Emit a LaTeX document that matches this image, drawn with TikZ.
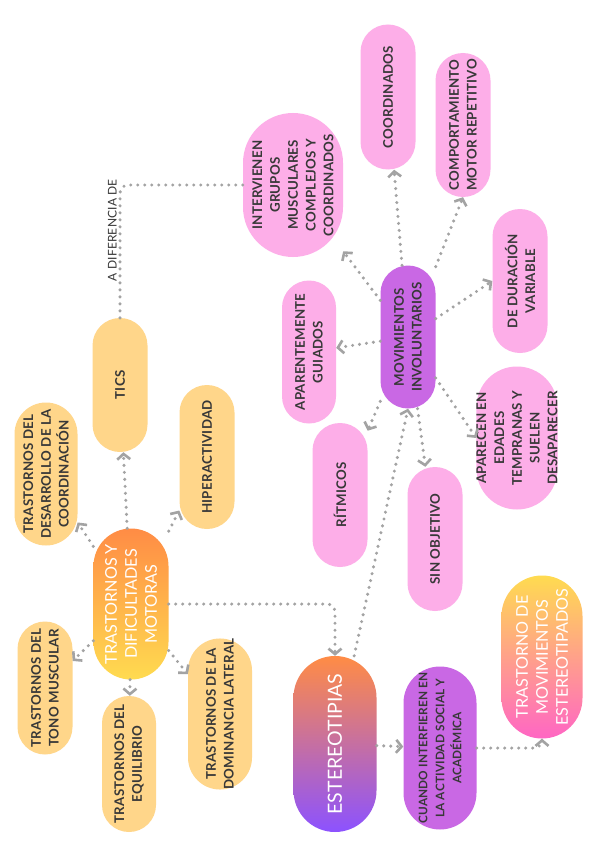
\documentclass[tikz,border=0pt]{standalone}
\usepackage{fontspec}
\setmainfont{Lato}
\newfontfamily\pfont[LetterSpace=1.5]{Lato}
\newfontfamily\gfont{Lato}
\usetikzlibrary{arrows.meta}
\definecolor{pastel}{HTML}{FFD68A}
\definecolor{pinkn}{HTML}{FDAEE8}
\definecolor{purp}{HTML}{C968E4}
\definecolor{txt}{HTML}{383838}
\definecolor{conncol}{HTML}{A3A3A3}
\definecolor{gorange}{HTML}{FF8C45}
\definecolor{gyellow}{HTML}{FFDB50}
\definecolor{gpurple}{HTML}{8C52FF}
\definecolor{gpink}{HTML}{FF66C4}
\tikzset{
  pill/.style 2 args={rotate=90, inner sep=0pt, minimum height=#1pt, minimum width=#2pt, rounded corners=#1pt/2},
  ptxt/.style={font=\pfont\fontsize{13.3}{17.8}\selectfont\bfseries, text=txt, align=center},
  gtxt/.style={font=\gfont\fontsize{16.2}{20}\selectfont, text=white, align=center},
  conn/.style={draw=conncol, line width=3.4pt, line cap=round, dash pattern=on 0pt off 7pt,
    -{Straight Barb[length=5.5pt,width=13pt,line width=2.6pt]}},
  nconn/.style={draw=conncol, line width=3.4pt, line cap=round, dash pattern=on 0pt off 7pt, rounded corners=8pt},
}
\begin{document}
\begin{tikzpicture}[x=1pt,y=-1pt]
\useasboundingbox[fill=white] (0,0) rectangle (599,848);
% yellow group
\node[pill={55}{134}, fill=pastel, ptxt] (tics) at (120,385) {TICS};
\node[pill={55}{144}, fill=pastel, ptxt] (hiper) at (207,457) {HIPERACTIVIDAD};
\node[pill={63}{143}, fill=pastel, ptxt] (desarr) at (46,474) {TRASTORNOS DEL\\DESARROLLO DE LA\\COORDINACIÓN};
\node[pill={75}{151}, top color=gorange, bottom color=gyellow, gtxt] (tdm) at (131,604) {TRASTORNOS Y\\DIFICULTADES\\MOTORAS};
\node[pill={55}{133}, fill=pastel, ptxt] (tono) at (45,688) {TRASTORNOS DEL\\TONO MUSCULAR};
\node[pill={54}{136}, fill=pastel, ptxt] (equil) at (129,764) {TRASTORNOS DEL\\EQUILIBRIO};
\node[pill={64}{146}, fill=pastel, ptxt] (domin) at (220,714) {TRASTORNOS DE LA\\DOMINANCIA LATERAL};
% bottom right
\node[pill={83}{176}, top color=gorange, bottom color=gpurple, gtxt, font=\gfont\fontsize{19.5}{22}\selectfont] (est) at (335,744) {ESTEREOTIPIAS};
\node[pill={73}{163}, fill=purp, ptxt, font=\pfont\fontsize{11.8}{17}\selectfont\bfseries] (cuando) at (440,748) {CUANDO INTERFIEREN EN\\LA ACTIVIDAD SOCIAL Y\\ACADÉMICA};
\node[pill={81}{163}, top color=gyellow, bottom color=gpink, gtxt] (tmest) at (542,657) {TRASTORNO DE\\MOVIMIENTOS\\ESTEREOTIPADOS};
% pink group
\node[pill={55}{143}, fill=purp, ptxt] (mi) at (408,337) {MOVIMIENTOS\\INVOLUNTARIOS};
\node[pill={55}{144}, fill=pinkn, ptxt] (sinobj) at (435,539) {SIN OBJETIVO};
\node[pill={55}{144}, fill=pinkn, ptxt] (ritm) at (340,495) {RÍTMICOS};
\node[pill={81}{143}, fill=pinkn, ptxt] (aparecen) at (517,438) {APARECEN EN\\EDADES\\TEMPRANAS Y\\SUELEN\\DESAPARECER};
\node[pill={54}{143}, fill=pinkn, ptxt] (aparent) at (309,352) {APARENTEMENTE\\GUIADOS};
\node[pill={55}{144}, fill=pinkn, ptxt] (durac) at (520,281) {DE DURACIÓN\\VARIABLE};
\node[pill={55}{144}, fill=pinkn, ptxt] (comport) at (463,125) {COMPORTAMIENTO\\MOTOR REPETITIVO};
\node[pill={55}{145}, fill=pinkn, ptxt] (coord) at (388,97) {COORDINADOS};
\node[pill={100}{144}, fill=pinkn, ptxt] (interv) at (293,185) {INTERVIENEN\\GRUPOS\\MUSCULARES\\COMPLEJOS Y\\COORDINADOS};
% connectors
\draw[conn] (tdm) -- (tics);
\draw[conn] (tdm) -- (hiper);
\draw[conn] (tdm) -- (desarr);
\draw[conn] (tdm) -- (tono);
\draw[conn] (tdm) -- (equil);
\draw[conn] (tdm) -- (domin);
\draw[conn, rounded corners=8pt] (tdm) -| (est);
\draw[conn] (est) -- (mi.west);
\draw[conn] (est) -- (cuando);
\draw[conn, rounded corners=8pt] (cuando) -| (tmest);
\draw[nconn] (tics) |- (interv) node[pos=0.33, rotate=90, anchor=south, inner sep=1.5pt, font=\pfont\fontsize{12}{14}\selectfont, text=txt] (lbl) {A DIFERENCIA DE};
\draw[conn] (mi) -- (coord);
\draw[conn] (mi) -- (comport.west);
\draw[conn] (mi) -- (interv);
\draw[conn] (mi) -- (durac.north);
\draw[conn] (mi) -- (aparent);
\draw[conn] (mi) -- (ritm);
\draw[conn] (mi) -- (sinobj);
\draw[conn] (mi) -- (aparecen.north);
\end{tikzpicture}
\end{document}
